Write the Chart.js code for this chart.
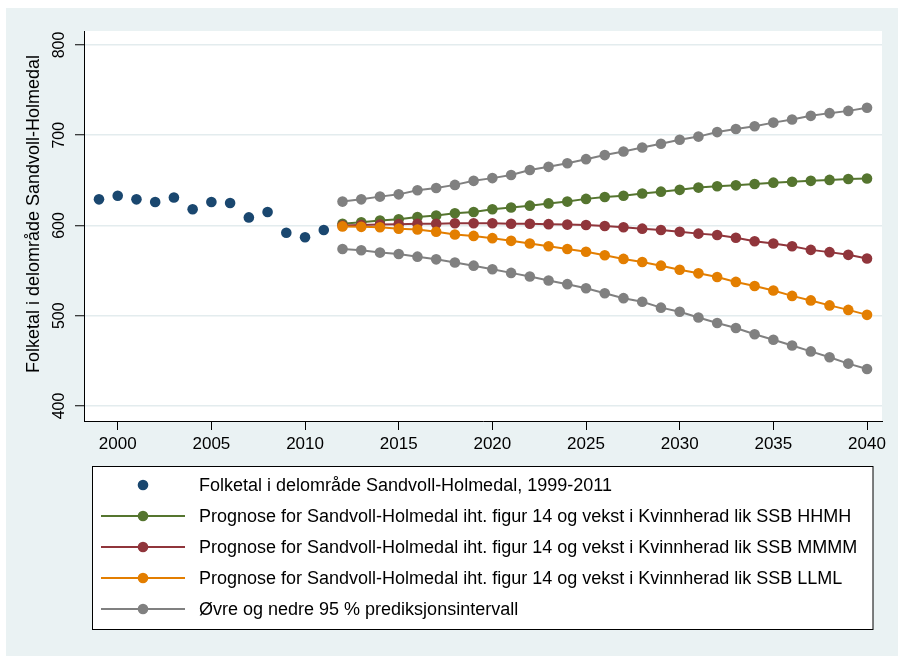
<!DOCTYPE html>
<html><head><meta charset="utf-8">
<script src="https://cdn.jsdelivr.net/npm/chart.js@4.4.0/dist/chart.umd.min.js"></script>
<style>html,body{margin:0;padding:0;background:#fff;}#wrap{width:898px;height:656px;}</style>
</head><body><div id="wrap"><canvas id="c" width="898" height="656"></canvas></div>
<script>
const obsYears = [1999,2000,2001,2002,2003,2004,2005,2006,2007,2008,2009,2010,2011];
const obsValues = [629,633,629,626,631,618,626,625,609,615,592,587,595];
const projYears = [2012,2013,2014,2015,2016,2017,2018,2019,2020,2021,2022,2023,2024,2025,2026,2027,2028,2029,2030,2031,2032,2033,2034,2035,2036,2037,2038,2039,2040];
const hhmh = [602,603.5,605.5,607,609.5,611,613.5,615,618,620,622,624.5,626.5,629.5,631.5,633,635.5,637.5,639.5,642,643.5,644.5,646,647.5,648.5,649.5,650.5,651.5,652];
const mmmm = [600,600.5,601,601.5,602,602,602.5,602.5,602.5,602,602,601.5,601,600.5,599.5,598,596.5,595,593,591,589.5,586.5,582.5,580,577,573,570.5,567.5,563.5];
const llml = [599,598.5,598,596.5,595.5,593,590,588.5,586,583,580,577,574,571,567,563,559.5,555.5,551,547,543,537.5,533,528,522,517,511.5,506.5,501];
const upper95 = [626.5,629,632,634.5,639,641.5,645,649.5,652.5,656,661.5,665,669,673.5,678,682,686.5,690.5,695,698.5,703.5,707,710,714,717.5,721.5,724.5,727,730.5];
const lower95 = [574,572.5,570,568.5,565.5,562.5,559,555.5,551.5,547.5,543.5,539,535,530.5,525,519.5,515.5,509,504.5,498,492,486.5,479.5,473.5,467,460.5,454,447,441];
const xTickValues = [2000,2005,2010,2015,2020,2025,2030,2035,2040];
const yTickValues = [400,500,600,700,800];
const yTitle = 'Folketal i delområde Sandvoll-Holmedal';
const labelObs = 'Folketal i delområde Sandvoll-Holmedal, 1999-2011';
const labelH = 'Prognose for Sandvoll-Holmedal iht. figur 14 og vekst i Kvinnherad lik SSB HHMH';
const labelM = 'Prognose for Sandvoll-Holmedal iht. figur 14 og vekst i Kvinnherad lik SSB MMMM';
const labelL = 'Prognose for Sandvoll-Holmedal iht. figur 14 og vekst i Kvinnherad lik SSB LLML';
const labelCI = 'Øvre og nedre 95 % prediksjonsintervall';

const FONT = "'Liberation Sans', Arial, sans-serif";
const BG = '#eaf2f3';
const GRID = '#e3ecee';
const C_NAVY = '#1a476f', C_GREEN = '#55752f', C_RED = '#90353b', C_ORANGE = '#e37e00', C_GRAY = '#808080';

const pts = (xs, ys) => xs.map((x, i) => ({x, y: ys[i]}));
function lineDs(label, ys, color, order, inLegend) {
  return {label, data: pts(projYears, ys), borderColor: color, backgroundColor: color,
    pointBackgroundColor: color, pointBorderColor: color, pointRadius: 5.3, pointBorderWidth: 0,
    borderWidth: 2, showLine: true, fill: false, tension: 0, order, inLegend};
}

const bgPlugin = {
  id: 'bgPlugin',
  beforeDraw(chart) {
    const {ctx, chartArea: a} = chart;
    ctx.save();
    ctx.fillStyle = '#fff'; ctx.fillRect(0, 0, chart.width, chart.height);
    ctx.fillStyle = BG; ctx.fillRect(6, 8, chart.width - 6, chart.height - 8);
    ctx.fillStyle = '#fff'; ctx.fillRect(a.left, a.top, a.right - a.left, a.bottom - a.top);
    ctx.restore();
  }
};

const legendPlugin = {
  id: 'boxLegend',
  afterDraw(chart) {
    const ctx = chart.ctx;
    ctx.save();
    // y-axis title
    ctx.fillStyle = '#000';
    ctx.font = '18px ' + FONT;
    ctx.textAlign = 'center'; ctx.textBaseline = 'middle';
    ctx.translate(34, 214); ctx.rotate(-Math.PI / 2);
    ctx.fillText(yTitle, 0, 0);
    ctx.setTransform(1, 0, 0, 1, 0, 0);
    // legend box
    ctx.fillStyle = '#fff'; ctx.strokeStyle = '#000'; ctx.lineWidth = 1;
    ctx.fillRect(92.5, 466.5, 780.5, 163);
    ctx.strokeRect(92.5, 466.5, 780.5, 163);
    const entries = chart.data.datasets.filter(d => d.inLegend);
    entries.forEach((d, i) => {
      const y = 485 + i * 31;
      if (d.showLine) {
        ctx.strokeStyle = d.borderColor; ctx.lineWidth = 2;
        ctx.beginPath(); ctx.moveTo(101, y); ctx.lineTo(185, y); ctx.stroke();
      }
      ctx.fillStyle = d.pointBackgroundColor;
      ctx.beginPath(); ctx.arc(143, y, 5.3, 0, Math.PI * 2); ctx.fill();
      ctx.fillStyle = '#000';
      ctx.font = '18px ' + FONT;
      ctx.textBaseline = 'middle'; ctx.textAlign = 'left';
      ctx.fillText(d.label, 199, y + 1);
    });
    ctx.restore();
  }
};

new Chart(document.getElementById('c'), {
  type: 'scatter',
  data: {
    datasets: [
      {label: labelObs, data: pts(obsYears, obsValues), showLine: false,
       pointBackgroundColor: C_NAVY, backgroundColor: C_NAVY, borderColor: C_NAVY,
       pointRadius: 5.3, pointBorderWidth: 0, order: 1, inLegend: true},
      lineDs(labelH, hhmh, C_GREEN, 4, true),
      lineDs(labelM, mmmm, C_RED, 3, true),
      lineDs(labelL, llml, C_ORANGE, 2, true),
      lineDs(labelCI, upper95, C_GRAY, 5, true),
      lineDs(labelCI, lower95, C_GRAY, 5, false)
    ]
  },
  options: {
    responsive: false, animation: false,
    layout: {padding: {left: 6, top: 31, right: 16, bottom: 195}},
    plugins: {legend: {display: false}, tooltip: {enabled: false}},
    scales: {
      x: {
        type: 'linear', min: 1998.2, max: 2040.8,
        afterBuildTicks: s => { s.ticks = xTickValues.map(v => ({value: v})); },
        afterFit: s => { s.height = 40; },
        grid: {drawOnChartArea: false, tickLength: 9, tickColor: '#000', tickWidth: 1},
        border: {color: '#000', width: 1},
        ticks: {color: '#000', font: {family: FONT, size: 17}, padding: 4, maxRotation: 0, minRotation: 0,
                callback: v => String(v)}
      },
      y: {
        type: 'linear', min: 383.4, max: 815.5,
        afterBuildTicks: s => { s.ticks = yTickValues.map(v => ({value: v})); },
        afterFit: s => { s.width = 78; },
        grid: {color: GRID, lineWidth: 1.5, tickLength: 9, tickColor: '#000', tickWidth: 1},
        border: {color: '#000', width: 1},
        ticks: {color: '#000', font: {family: FONT, size: 16}, padding: 2, minRotation: 90, maxRotation: 90,
                crossAlign: 'center', callback: v => String(v)},
        title: {display: false}
      }
    }
  },
  plugins: [bgPlugin, legendPlugin]
});
</script></body></html>
